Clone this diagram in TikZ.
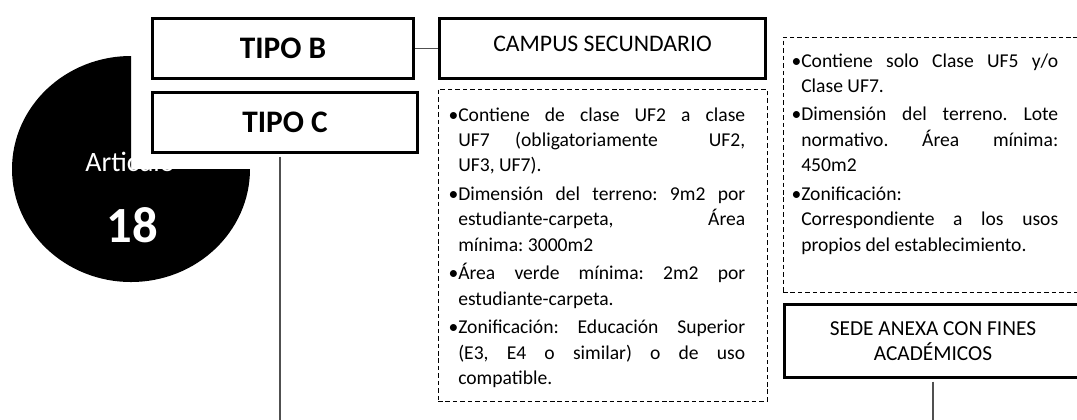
\documentclass[tikz,border=0pt]{standalone}
\usepackage{fontspec}
\setmainfont{Carlito}
\definecolor{connc}{HTML}{505050}
\newcommand{\bodyfont}{\fontsize{14.7pt}{19.1pt}\selectfont}
\newcommand{\natsp}{\spaceskip=0pt\xspaceskip=0pt\frenchspacing}
\newcommand{\jwa}[1]{\leavevmode\hbox to 215.25pt{\natsp #1}}
\newcommand{\jwb}[1]{\leavevmode\hbox to 192.75pt{\natsp #1}}
\newcommand{\bul}{\leavevmode\llap{•}}
\begin{document}
\begin{tikzpicture}[x=0.75pt,y=-0.75pt,
  box/.style={draw=black, line width=2.2pt, fill=white, inner sep=0pt},
  dbox/.style={draw=black, line width=0.75pt, dash pattern=on 3.4pt off 2.2pt, inner sep=0pt},
  conn/.style={draw=connc, line width=1pt},
  body/.style={anchor=base west, inner sep=0pt, align=left, font=\bodyfont},
  tipo/.style={font=\fontsize{23.5pt}{28pt}\selectfont\bfseries},
  head/.style={font=\fontsize{16pt}{18.75pt}\selectfont, align=center}]
\useasboundingbox (0,0) rectangle (1077,419);
\begin{scope}
\clip (0,0) rectangle (1077,419);
% pie
\fill[black] (131,169) -- ++(119,0) arc[start angle=0, end angle=270, x radius=119, y radius=113] -- cycle;
\node[text=white, font=\fontsize{21pt}{25pt}\selectfont, anchor=base, inner sep=0pt] (art) at (130,171.7) {Articulo};
\node[text=white, font=\fontsize{38pt}{45pt}\selectfont\bfseries, anchor=base, inner sep=0pt] (num) at (132,242) {18};
% dashed boxes
\node[dbox, minimum width=246.75pt, minimum height=234pt] (detc) at (602.5,245) {};
\node[dbox, minimum width=225pt, minimum height=191.25pt] (dets) at (933,164.5) {};
% boxes
\node[box, tipo, minimum width=195.75pt, minimum height=45pt] (tipob) at (283,48.5) {TIPO B};
\node[box, tipo, minimum width=198.75pt, minimum height=45pt] (tipoc) at (285,122.5) {TIPO C};
\node[box, font=\fontsize{17.8pt}{21pt}\selectfont, minimum width=244.5pt, minimum height=45pt, text height=11.5pt, text depth=6.7pt] (campus) at (602.5,48.5) {CAMPUS SECUNDARIO};
\node[box, head, minimum width=222.75pt, minimum height=54.75pt] (sede) at (933,341) {SEDE ANEXA CON FINES\\ACADÉMICOS};
% connectors
\coordinate (cbot) at (280,425);
\coordinate (sbot) at (933,425);
\draw[conn] (tipob.east) -- (campus.west);
\draw[conn] ([yshift=-2pt]tipoc.south -| cbot) -- (cbot);
\draw[conn] ([yshift=-2pt]sede.south) -- (sbot);
% texts
\node[body, text width=215.25pt] (txtc) at (458,121) {\natsp
\jwa{\llap{•}Contiene de clase UF2 a clase}\\
\jwa{UF7 (obligatoriamente\ \ UF2,}\\
\leavevmode UF3, UF7).\\[2.25pt]
\jwa{\llap{•}Dimensión del terreno: 9m2 por}\\
\jwa{estudiante-carpeta, Área}\\
\leavevmode mínima: 3000m2\\[2.25pt]
\jwa{\llap{•}Área verde mínima: 2m2 por}\\
\leavevmode estudiante-carpeta.\\[2.25pt]
\jwa{\llap{•}Zonificación: Educación Superior}\\
\jwa{(E3, E4 o similar) o de uso}\\
\leavevmode compatible.};
\node[body, text width=192.75pt] (txts) at (801,67) {\natsp
\jwb{\llap{•}Contiene solo Clase UF5 y/o}\\
\leavevmode Clase UF7.\\[2.25pt]
\jwb{\llap{•}Dimensión del terreno. Lote}\\
\jwb{normativo. Área mínima:}\\
\leavevmode 450m2\\[2.25pt]
\bul Zonificación:\\
\jwb{Correspondiente a los usos}\\
\leavevmode propios del establecimiento.};
\end{scope}
\end{tikzpicture}
\end{document}
